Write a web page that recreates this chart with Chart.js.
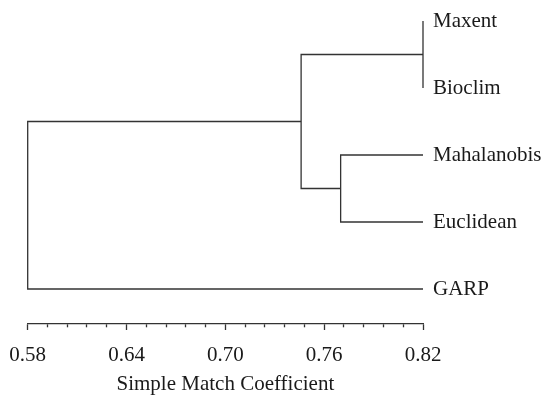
<!DOCTYPE html>
<html>
<head>
<meta charset="utf-8">
<script src="https://cdn.jsdelivr.net/npm/chart.js@4"></script>
<style>
  html, body { margin: 0; padding: 0; background: #fff; }
  #wrap { width: 546px; height: 397px; }
</style>
</head>
<body>
<div id="wrap"><canvas id="myChart" width="546" height="397"></canvas></div>
<script>
// leaves of the dendrogram, top to bottom
const leaves = ['Maxent', 'Bioclim', 'Mahalanobis', 'Euclidean', 'GARP'];
const leafSim = 0.82;
// merges (scipy style: index < 5 is a leaf, 5+ is an earlier merge)
const linkLeft = [0, 2, 5, 7];
const linkRight = [1, 3, 6, 4];
const linkSim = [0.82, 0.770, 0.746, 0.58];
// axis tick labels
const tickLabels = ['0.58', '0.64', '0.70', '0.76', '0.82'];
const minorPerMajor = 5;
const axisTitle = 'Simple Match Coefficient';

const lineColor = '#333';
const textColor = '#1a1a1a';
const font = "'Liberation Serif', 'DejaVu Serif', serif";

// position of each node (leaf or merge)
const nodeX = [], nodeY = [];
leaves.forEach((l, i) => { nodeX.push(leafSim); nodeY.push(i); });
linkSim.forEach((s, k) => {
    nodeX.push(s);
    nodeY.push((nodeY[linkLeft[k]] + nodeY[linkRight[k]]) / 2);
});

const datasets = linkSim.map((s, k) => {
    const a = linkLeft[k], b = linkRight[k];
    return {
        data: [
            {x: nodeX[a], y: nodeY[a]},
            {x: s, y: nodeY[a]},
            {x: s, y: nodeY[b]},
            {x: nodeX[b], y: nodeY[b]}
        ],
        showLine: true,
        borderColor: lineColor,
        borderWidth: 1.3,
        pointRadius: 0,
        fill: false,
        clip: false
    };
});

const xMin = parseFloat(tickLabels[0]);
const xMax = parseFloat(tickLabels[tickLabels.length - 1]);
const minorStep = (parseFloat(tickLabels[1]) - xMin) / minorPerMajor;

const ctx = document.getElementById('myChart').getContext('2d');
const mychart = new Chart(ctx, {
    type: 'scatter',
    data: { datasets },
    options: {
        responsive: false,
        animation: false,
        layout: { padding: { left: 27.7, top: 4, right: 0, bottom: 0 } },
        plugins: { legend: { display: false }, tooltip: { enabled: false } },
        scales: {
            x: {
                type: 'linear',
                position: 'bottom',
                min: xMin,
                max: xMax,
                afterBuildTicks: (scale) => {
                    const t = [];
                    const n = (tickLabels.length - 1) * minorPerMajor;
                    for (let i = 0; i <= n; i++) t.push({value: xMin + i * minorStep});
                    scale.ticks = t;
                },
                afterFit: (scale) => {
                    scale.height = 73;
                    scale.paddingLeft = 0;
                    scale.paddingRight = 0;
                },
                border: { display: true, color: lineColor, width: 1.3 },
                grid: {
                    display: true,
                    drawOnChartArea: false,
                    drawTicks: true,
                    tickLength: 6,
                    tickColor: lineColor,
                    tickWidth: 1.3,
                    tickBorderDash: (c) => (c.index % minorPerMajor === 0 ? [] : [3, 20])
                },
                ticks: {
                    autoSkip: false,
                    maxRotation: 0,
                    padding: 13,
                    color: textColor,
                    font: { family: font, size: 21 },
                    callback: (v, i) => (i % minorPerMajor === 0 ? tickLabels[i / minorPerMajor] : '')
                },
                title: {
                    display: true,
                    text: axisTitle,
                    color: textColor,
                    font: { family: font, size: 21 },
                    padding: { top: 0, bottom: 0 }
                }
            },
            y: {
                type: 'linear',
                position: 'right',
                reverse: true,
                min: -0.2537,
                max: 4.522,
                afterBuildTicks: (scale) => {
                    scale.ticks = leaves.map((l, i) => ({value: i}));
                },
                afterFit: (scale) => {
                    scale.width = 123;
                    scale.paddingTop = 0;
                    scale.paddingBottom = 0;
                },
                border: { display: false },
                grid: { display: false, drawTicks: false },
                ticks: {
                    autoSkip: false,
                    padding: 10,
                    color: textColor,
                    font: { family: font, size: 21 },
                    callback: (v) => leaves[v]
                }
            }
        }
    }
});
</script>
</body>
</html>
